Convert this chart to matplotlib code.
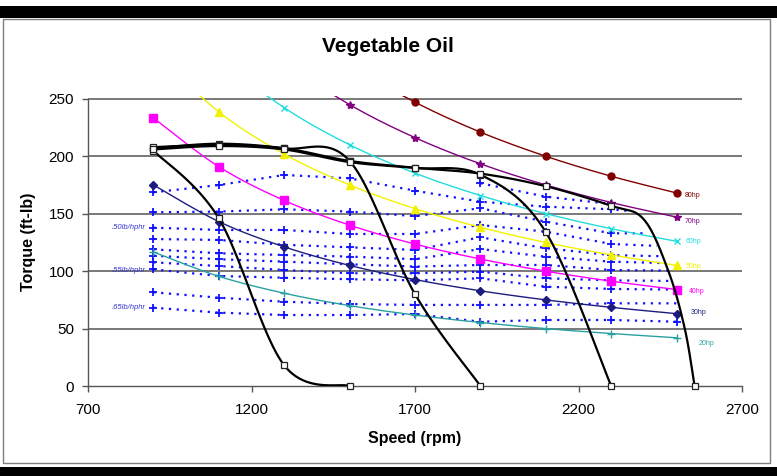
import numpy as np
import matplotlib
matplotlib.use("Agg")
import matplotlib.pyplot as plt
from matplotlib.patches import Rectangle

# ---------------- data ----------------
rpm = [900, 1100, 1300, 1500, 1700, 1900, 2100, 2300, 2500]

# constant-horsepower lines (torque, ft-lb)
hp_labels = ["80hp", "70hp", "60hp", "50hp", "40hp", "30hp", "20hp"]
hp80 = [466.8, 381.9, 323.2, 280.1, 247.2, 221.1, 200.1, 182.7, 168.1]
hp70 = [408.5, 334.2, 282.8, 245.1, 216.3, 193.5, 175.1, 159.8, 147.1]
hp60 = [350.1, 286.5, 242.4, 210.1, 185.4, 165.9, 150.1, 137.0, 126.0]
hp50 = [291.8, 238.7, 202.0, 175.1, 154.5, 138.2, 125.0, 114.2, 105.0]
hp40 = [233.4, 191.0, 161.6, 140.1, 123.6, 110.6, 100.0, 91.3, 84.0]
hp30 = [175.1, 143.2, 121.2, 105.0, 92.7, 82.9, 75.0, 68.5, 63.0]
hp20 = [116.7, 95.5, 80.8, 70.0, 61.8, 55.3, 50.0, 45.7, 42.0]
hp_label_rpm = [2550, 2547, 2550, 2552, 2562, 2568, 2592]
hp_label_tq = [166, 143, 126, 104, 82, 64, 37]

# full-load torque curves (governor droop), open squares
tq_a_rpm = [900, 1100, 1300, 1500]
tq_a = [205, 146, 18, 0]
tq_b_rpm = [900, 1100, 1300, 1500, 1700, 1900]
tq_b = [207, 211, 207, 196, 80, 0]
tq_c_rpm = [900, 1100, 1300, 1500, 1700, 1900, 2100, 2300]
tq_c = [208, 210, 207, 196, 190, 184, 134, 0]
tq_d_rpm = [900, 1100, 1300, 1500, 1700, 1900, 2100, 2300, 2400, 2475, 2525, 2555]
tq_d = [206, 209, 206, 195, 190, 185, 174, 157, 145, 100, 50, 0]
tq_d_marked = [0, 1, 2, 3, 4, 5, 6, 7, 11]

# dotted fuel-consumption lines: torque at each rpm (nan = no point),
# plus the point where each line meets the full-load curve
nan = np.nan
fuel_lines = [
    [nan, nan, nan, nan, nan, 176.6, 164.9, 158.5, nan],
    [168.7, 175.0, 183.8, 180.9, 170.1, 160.5, 156.2, 153.9, nan],
    [151.3, 151.9, 153.9, 151.9, 148.0, 154.8, 143.1, 133.0, nan],
    [137.9, 135.9, 135.9, 132.4, 132.4, 140.2, 134.4, 123.7, nan],
    [128.0, 127.2, 123.0, 120.8, 118.5, 129.5, 120.0, 114.0, nan],
    [119.0, 115.6, 114.1, 112.7, 110.4, 119.3, 112.6, 108.3, nan],
    [113.5, 110.4, 108.3, 106.0, 104.0, 105.4, 105.4, 101.0, nan],
    [107.7, 104.5, 101.0, 98.2, 98.2, 99.6, 93.8, 92.0, nan],
    [101.6, 95.8, 94.3, 93.0, 92.0, 93.8, 86.5, 84.5, nan],
    [81.6, 76.9, 73.4, 71.4, 70.6, 70.6, 70.6, 72.0, nan],
    [68.2, 63.9, 61.8, 61.8, 62.7, 56.0, 57.5, 57.5, 56.0],
]
fuel_end_rpm = [nan, 2350, 2410, 2440, 2458, 2466, 2474, 2486, 2497, 2512, nan]
fuel_end_tq = [nan, 152.5, 133.0, 122.0, 113.0, 107.0, 100.5, 91.5, 84.0, 72.0, nan]
fuel_labels = [".50lb/hphr", ".55lb/hphr", ".65lb/hphr"]
fuel_label_levels = [138, 101, 68]

title = "Vegetable Oil"
xlabel = "Speed (rpm)"
ylabel = "Torque (ft-lb)"
xticks = [700, 1200, 1700, 2200, 2700]
yticks = [0, 50, 100, 150, 200, 250]


# ---------------- helpers ----------------
def smooth(xs, ys, n=24):
    """Excel-like smoothed line: cubic Bezier with Catmull-Rom control points."""
    P = np.column_stack([xs, ys]).astype(float)
    m = len(P)
    if m < 3:
        return P[:, 0], P[:, 1]
    out = []
    t = np.linspace(0, 1, n)
    for i in range(m - 1):
        p0 = P[i]
        p3 = P[i + 1]
        pm = P[i - 1] if i > 0 else P[i]
        pp = P[i + 2] if i + 2 < m else P[i + 1]
        c1 = p0 + (p3 - pm) / 6.0
        c2 = p3 - (pp - p0) / 6.0
        seg = ((1 - t)[:, None] ** 3 * p0 + 3 * ((1 - t) ** 2 * t)[:, None] * c1
               + 3 * ((1 - t) * t ** 2)[:, None] * c2 + (t ** 3)[:, None] * p3)
        out.append(seg if i == 0 else seg[1:])
    S = np.vstack(out)
    return S[:, 0], S[:, 1]


plt.rcParams['font.family'] = ['Liberation Sans', 'DejaVu Sans']

fig = plt.figure(figsize=(7.77, 4.76), dpi=100)
W, H = 777, 476

# frame decorations
fig.patches.append(Rectangle((0, 1 - 18 / H), 1, 12 / H, transform=fig.transFigure,
                             facecolor='black', edgecolor='none', zorder=-3))
fig.patches.append(Rectangle((0, 0), 1, 9 / H, transform=fig.transFigure,
                             facecolor='black', edgecolor='none', zorder=-3))
fig.patches.append(Rectangle((3 / W, 13 / H), 767 / W, 444 / H, transform=fig.transFigure,
                             facecolor='white', edgecolor='#7f7f7f', lw=1.0, zorder=-2))

ax = fig.add_axes([88 / W, (H - 386) / H, (742 - 88) / W, (386 - 95.5) / H])
ax.set_zorder(2)
ax.set_facecolor('none')
ax.set_xlim(700, 2700)
ax.set_ylim(0, 253)

for yv in yticks[1:]:
    ax.axhline(yv, color='#6e6e6e', lw=1.3, zorder=1)

for s in ['top', 'right']:
    ax.spines[s].set_visible(False)
for s in ['left', 'bottom']:
    ax.spines[s].set_color('#555555')
    ax.spines[s].set_linewidth(1.0)
ax.spines['left'].set_bounds(0, 250)

ax.set_xticks(xticks)
ax.set_yticks(yticks)
ax.tick_params(direction='out', length=4, width=1, color='#555555',
               labelsize=11, labelcolor='black')
ax.tick_params(axis='x', pad=8)
ax.tick_params(axis='y', pad=6)

# dotted fuel lines
r = np.array(rpm, dtype=float)
for fl, ex, ey in zip(fuel_lines, fuel_end_rpm, fuel_end_tq):
    arr = np.array(fl, dtype=float)
    ok = ~np.isnan(arr)
    lx = list(r[ok])
    ly = list(arr[ok])
    if not np.isnan(ex):
        lx.append(ex)
        ly.append(ey)
    ax.plot(lx, ly, ls=(0, (1, 2.5)), color='#1010ff', lw=1.6, zorder=3)
    ax.plot(r[ok], arr[ok], ls='none', marker='+', ms=6, mew=1.3,
            mec='#1010ff', zorder=3)

for lab, lv in zip(fuel_labels, fuel_label_levels):
    ax.text(876, lv, lab, color='#3535d0', fontsize=5.5, style='italic',
            ha='right', va='center', zorder=5)

# constant hp lines
hp_styles = [
    (hp80, '#800000', 'o', 5, '#800000'),
    (hp70, '#800080', '*', 6, '#800080'),
    (hp60, '#22dddd', 'x', 4, '#22dddd'),
    (hp50, '#f2f200', '^', 6, '#f2f200'),
    (hp40, '#ff00ff', 's', 5.5, '#ff00ff'),
    (hp30, '#1c1c80', 'D', 4.5, '#1c1c80'),
    (hp20, '#2aa0a0', '+', 6, '#2aa0a0'),
]
for vals, col, mk, ms, fc in hp_styles:
    sx, sy = smooth(rpm, vals)
    ax.plot(sx, sy, color=col, lw=1.0, zorder=4)
    v = np.array(vals)
    vis = v <= 253
    ax.plot(r[vis], v[vis], ls='none', marker=mk, ms=ms, mfc=fc, mec=col,
            mew=1.0, zorder=6)

for (vals, col, mk, ms, fc), lab, lx, ly in zip(hp_styles, hp_labels,
                                                 hp_label_rpm, hp_label_tq):
    ax.text(lx, ly, lab, color=col, fontsize=5, ha='center', va='center', zorder=6)

# torque curves
for xs, ys, mev in [(tq_a_rpm, tq_a, None), (tq_b_rpm, tq_b, None),
                    (tq_c_rpm, tq_c, None), (tq_d_rpm, tq_d, tq_d_marked)]:
    sx, sy = smooth(xs, ys)
    ax.plot(sx, sy, color='black', lw=1.6, zorder=7)
    ax.plot(xs, ys, ls='none', marker='s', ms=4.5, mfc='white', mec='#222222',
            mew=0.9, zorder=8, clip_on=False, markevery=mev)

fig.text(388 / W, 1 - 47 / H, title, ha='center', va='center', fontsize=15,
         fontweight='bold')
fig.text(415 / W, 1 - 438 / H, xlabel, ha='center', va='center', fontsize=11.5,
         fontweight='bold')
fig.text(28 / W, 1 - 242 / H, ylabel, ha='center', va='center', fontsize=11.5,
         fontweight='bold', rotation=90)

fig.savefig('out.png', dpi=100)
